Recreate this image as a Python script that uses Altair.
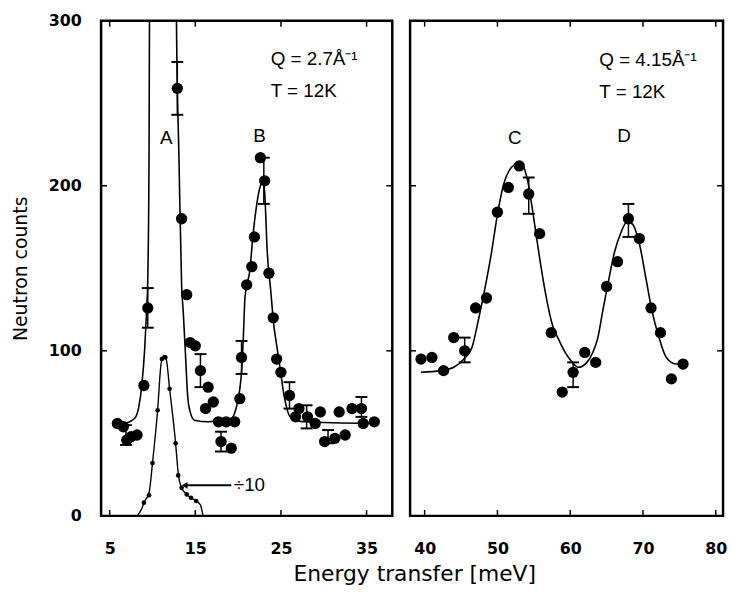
import altair as alt
import pandas as pd

FONT = "DejaVu Sans"
TXT = "Liberation Sans"

# ---------------- left panel: Q = 2.7 A^-1 ----------------
left_x = [5.9, 6.6, 7.0, 7.5, 8.2, 9.0, 9.45, 12.9, 13.4, 14.0, 14.4, 15.0, 15.6, 16.5, 16.2,
          17.1, 17.7, 18.6, 19.6, 18.0, 19.2, 20.2, 20.4, 21.0, 21.6, 21.9, 22.6, 23.1, 23.6,
          24.1, 24.5, 25.0, 26.0, 26.7, 27.1, 28.1, 29.0, 29.6, 30.1, 31.3, 32.5, 31.8, 33.3,
          34.4, 34.6, 35.9]
left_y = [56, 54, 46, 48, 49, 79, 126, 259, 180, 134, 105, 103, 88, 78, 65,
          69, 57, 57, 57, 45, 41, 71, 96, 140, 151, 169, 217, 203, 147,
          120, 95, 87, 73, 60, 65, 60, 56, 63, 45, 47, 49, 63, 65,
          65, 56, 57]

left_fit_x = [6.0, 7.5, 8.05, 8.4, 8.75, 9.1, 9.3, 9.45, 9.6, 9.65, 9.7, 12.75, 12.8, 13.1, 13.4,
              13.6, 13.9, 14.1, 14.4, 14.9, 16.5, 19.2, 19.8, 20.2, 20.4, 20.6, 20.8, 21.4, 21.7,
              22.1, 22.5, 22.9, 23.1, 23.4, 23.8, 24.2, 24.4, 24.8, 25.4, 26.1, 27.7, 35.5]
left_fit_y = [55, 57.5, 60, 66, 79, 102, 123, 143, 220, 300, 330, 330, 300, 215, 140,
              123, 93, 73, 63, 58, 57, 59, 66, 77, 87, 107, 132, 150, 168,
              186, 198, 203, 196, 160, 137, 114, 107, 93, 72, 60, 57, 56]

div10_x = [9.0, 9.6, 10.0, 10.6, 11.1, 11.5, 12.0, 12.7, 13.0, 13.4, 14.0, 14.5, 15.1]
div10_y = [8, 12.5, 32, 64, 95, 96, 77, 44, 24.5, 17, 13, 11, 9]
div10_fit_x = [8.2, 8.8, 9.0, 9.6, 10.0, 10.6, 11.0, 11.3, 11.6, 12.0, 12.7, 13.0, 13.4, 14.0,
               14.5, 15.1, 15.6, 15.9]
div10_fit_y = [0, 5, 8, 14, 32, 64, 92, 97, 95, 77, 44, 26, 17, 13, 11, 9, 6.6, 0]

left_err_x = [6.9, 9.45, 12.9, 15.6, 18.0, 20.4, 23.0, 26.0, 28.0, 30.5, 34.4]
left_err_lo = [43, 114, 243, 78, 39, 86, 189, 65, 53, 44, 60]
left_err_hi = [55, 138, 275, 98, 51, 106, 217, 81, 67, 52, 72]

# ---------------- right panel: Q = 4.15 A^-1 ----------------
right_x = [39.5, 41.0, 42.6, 44.0, 45.5, 47.0, 48.5, 50.0, 51.5, 53.0, 54.3, 55.8, 57.4, 58.9,
           60.4, 62.0, 63.5, 65.0, 66.5, 68.0, 69.5, 71.1, 72.4, 73.9, 75.5]
right_y = [95, 96, 88, 108, 100, 126, 132, 184, 199, 212, 195, 171, 111, 75,
           87, 99, 93, 139, 154, 180, 168, 126, 111, 83, 92]

right_fit_x = [39.5, 42.2, 44.0, 45.4, 46.5, 47.4, 48.2, 49.2, 49.9, 50.8, 51.9, 52.6, 53.5, 54.2,
               54.9, 55.7, 56.6, 57.6, 58.4, 59.3, 60.3, 61.1, 62.3, 63.1, 63.8, 64.5, 65.2,
               66.1, 67.0, 67.8, 68.5, 69.5, 70.4, 71.2, 72.2, 73.2, 74.6, 75.5]
right_fit_y = [87, 88, 90, 95, 102, 119, 136, 160, 180, 200, 211, 213, 212, 202,
               183, 159, 135, 115, 107, 99, 93, 90, 93, 99, 108, 125, 141,
               160, 172, 178, 177, 165, 144, 125, 108, 96, 92, 92]

right_err_x = [45.5, 54.3, 60.4, 68.0]
right_err_lo = [93, 183, 78, 169]
right_err_hi = [108, 205, 93, 189]

# ---------------- labels ----------------
left_xticks = [5, 15, 25, 35]
right_xticks = [40, 50, 60, 70, 80]
yticks = [0, 100, 200, 300]
inner_yticks = [100, 200]

left_text = pd.DataFrame({"x": [23.8, 23.8], "y": [277, 257.5], "t": ["Q = 2.7Å⁻¹", "T = 12K"]})
right_text = pd.DataFrame({"x": [64.0, 64.0], "y": [276, 256.5], "t": ["Q = 4.15Å⁻¹", "T = 12K"]})
left_peaks = pd.DataFrame({"x": [11.6, 22.5], "y": [229, 230], "t": ["A", "B"]})
right_peaks = pd.DataFrame({"x": [52.4, 67.4], "y": [229, 230], "t": ["C", "D"]})
div_label = pd.DataFrame({"x": [19.5], "y": [18.5], "t": ["÷10"]})
arrow = pd.DataFrame({"x": [13.75], "x2": [19.2], "y": [18.5]})

H = 500
WL = 294
WR = 316


def make_panel(xdom, xticks, W, show_y):
    scale_x = alt.Scale(domain=xdom, nice=False, zero=False)
    scale_y = alt.Scale(domain=[0, 300], nice=False, zero=True)
    ax_x = alt.Axis(values=xticks, title=None, tickSize=0, ticks=False, domain=False, grid=False,
                    labelFont=FONT, labelFontSize=16, labelFontWeight="bold", labelColor="black",
                    labelPadding=25, labelFlush=False)
    if show_y:
        ax_y = alt.Axis(values=yticks, title="Neutron counts", tickSize=0, ticks=False, domain=False,
                        grid=False, labelFont=FONT, labelFontSize=16, labelFontWeight="bold",
                        labelColor="black", labelPadding=20, titleFont=FONT, titleFontSize=19,
                        titleFontWeight="normal", titleColor="black", titlePadding=18)
    else:
        ax_y = None

    def X(f="x"):
        return alt.X(f, type="quantitative", scale=scale_x, axis=ax_x)

    def Y(f="y"):
        return alt.Y(f, type="quantitative", scale=scale_y, axis=ax_y)

    tx = pd.DataFrame({"x": xticks})
    ty = pd.DataFrame({"y": inner_yticks})
    tl = 6
    ticks = [
        alt.Chart(tx).mark_rule(color="black", strokeWidth=1.5).encode(x=X(), y=alt.value(H), y2=alt.value(H - tl)),
        alt.Chart(tx).mark_rule(color="black", strokeWidth=1.5).encode(x=X(), y=alt.value(0), y2=alt.value(tl)),
        alt.Chart(ty).mark_rule(color="black", strokeWidth=1.5).encode(y=Y(), x=alt.value(0), x2=alt.value(tl)),
        alt.Chart(ty).mark_rule(color="black", strokeWidth=1.5).encode(y=Y(), x=alt.value(W), x2=alt.value(W - tl)),
    ]
    return X, Y, ticks


# left panel
XL, YL, ticksL = make_panel([4, 38], left_xticks, WL, True)
lfit = pd.DataFrame({"x": left_fit_x, "y": left_fit_y})
lpts = pd.DataFrame({"x": left_x, "y": left_y})
d10fit = pd.DataFrame({"x": div10_fit_x, "y": div10_fit_y})
d10pts = pd.DataFrame({"x": div10_x, "y": div10_y})
lerr = pd.DataFrame({"x": left_err_x, "lo": left_err_lo, "hi": left_err_hi})

left_layers = [
    alt.Chart(lfit).mark_line(color="black", strokeWidth=1.6, clip=True, interpolate="monotone").encode(x=XL(), y=YL()),
    alt.Chart(d10fit).mark_line(color="black", strokeWidth=1.4, clip=True, interpolate="monotone").encode(x=XL(), y=YL()),
    alt.Chart(lerr).mark_rule(color="black", strokeWidth=1.5).encode(x=XL(), y=YL("lo"), y2="hi"),
    alt.Chart(lerr).mark_tick(color="black", orient="horizontal", size=12, thickness=2, opacity=1).encode(x=XL(), y=YL("lo")),
    alt.Chart(lerr).mark_tick(color="black", orient="horizontal", size=12, thickness=2, opacity=1).encode(x=XL(), y=YL("hi")),
    alt.Chart(lpts).mark_circle(color="black", size=130, opacity=1).encode(x=XL(), y=YL()),
    alt.Chart(d10pts).mark_circle(color="black", size=22, opacity=1).encode(x=XL(), y=YL()),
    alt.Chart(arrow).mark_rule(color="black", strokeWidth=2).encode(x=XL(), x2="x2", y=YL()),
    alt.Chart(arrow).mark_point(shape="triangle-left", filled=True, color="black", size=45, opacity=1).encode(x=XL(), y=YL()),
    alt.Chart(div_label).mark_text(font=TXT, fontSize=19, align="left", baseline="middle", color="black").encode(x=XL(), y=YL(), text="t:N"),
    alt.Chart(left_text).mark_text(font=TXT, fontSize=19, align="left", baseline="middle", color="black").encode(x=XL(), y=YL(), text="t:N"),
    alt.Chart(left_peaks).mark_text(font=TXT, fontSize=19, align="center", baseline="middle", color="black").encode(x=XL(), y=YL(), text="t:N"),
] + ticksL
left = alt.layer(*left_layers).properties(width=WL, height=H)

# right panel
XR, YR, ticksR = make_panel([38, 81], right_xticks, WR, False)
rfit = pd.DataFrame({"x": right_fit_x, "y": right_fit_y})
rpts = pd.DataFrame({"x": right_x, "y": right_y})
rerr = pd.DataFrame({"x": right_err_x, "lo": right_err_lo, "hi": right_err_hi})
right_layers = [
    alt.Chart(rfit).mark_line(color="black", strokeWidth=1.6, clip=True, interpolate="monotone").encode(x=XR(), y=YR()),
    alt.Chart(rerr).mark_rule(color="black", strokeWidth=1.5).encode(x=XR(), y=YR("lo"), y2="hi"),
    alt.Chart(rerr).mark_tick(color="black", orient="horizontal", size=12, thickness=2, opacity=1).encode(x=XR(), y=YR("lo")),
    alt.Chart(rerr).mark_tick(color="black", orient="horizontal", size=12, thickness=2, opacity=1).encode(x=XR(), y=YR("hi")),
    alt.Chart(rpts).mark_circle(color="black", size=130, opacity=1).encode(x=XR(), y=YR()),
    alt.Chart(right_text).mark_text(font=TXT, fontSize=19, align="left", baseline="middle", color="black").encode(x=XR(), y=YR(), text="t:N"),
    alt.Chart(right_peaks).mark_text(font=TXT, fontSize=19, align="center", baseline="middle", color="black").encode(x=XR(), y=YR(), text="t:N"),
] + ticksR
right = alt.layer(*right_layers).properties(width=WR, height=H)

chart = alt.hconcat(left, right, spacing=14).properties(
    title=alt.TitleParams("Energy transfer [meV]", orient="bottom", anchor="middle", font=FONT,
                          fontSize=22, fontWeight="normal", color="black", offset=6, dx=46),
    padding={"left": 2, "top": 0, "right": 0, "bottom": 0},
).configure_view(stroke="black", strokeWidth=2.5)

chart.save("out.html", embed_options={"renderer": "svg", "actions": False})
